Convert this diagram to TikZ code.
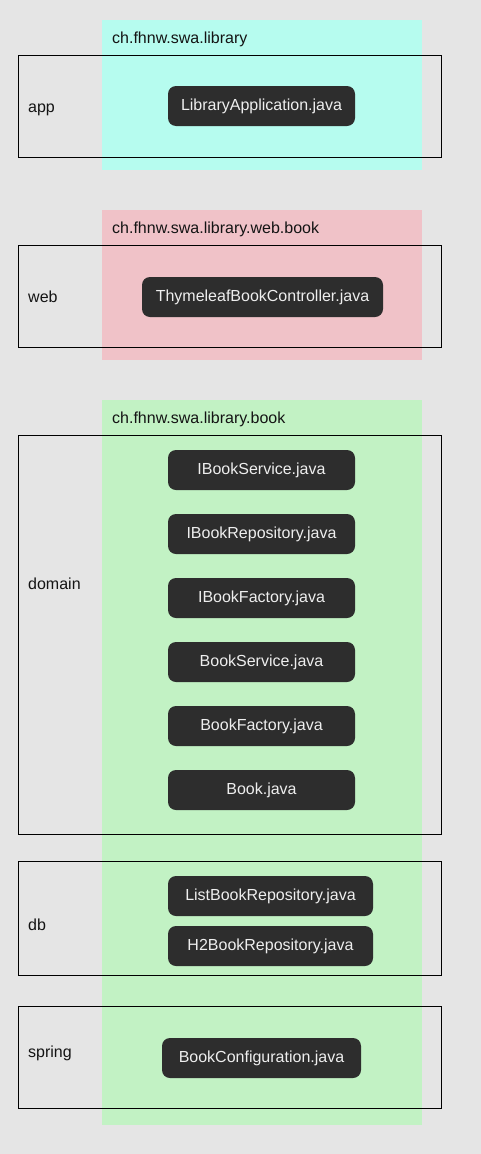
\documentclass[tikz,border=0pt]{standalone}
\usepackage{fontspec}
\setmainfont{Liberation Sans}
\definecolor{bg}{RGB}{229,229,229}
\definecolor{pkgA}{RGB}{182,252,239}
\definecolor{pkgB}{RGB}{240,194,200}
\definecolor{pkgC}{RGB}{194,242,196}
\definecolor{filebg}{RGB}{45,45,45}
\definecolor{filetx}{RGB}{238,238,238}
\definecolor{ink}{RGB}{20,20,20}
\begin{document}
\begin{tikzpicture}[x=1pt,y=-1pt,
  file/.style={fill=filebg,text=filetx,rounded corners=8pt,minimum height=40pt,inner sep=0pt,font=\fontsize{16}{18}\selectfont},
  lbl/.style={anchor=base west,inner sep=0pt,text=ink,font=\fontsize{16}{18}\selectfont},
  layer/.style={draw=black,line width=1pt}]
\useasboundingbox (0,0) rectangle (481,1154);
\fill[bg] (0,0) rectangle (481,1154);
% packages
\fill[pkgA] (102,20) rectangle (422,170);
\fill[pkgB] (102,210) rectangle (422,360);
\fill[pkgC] (102,400) rectangle (422,1125);
\node[lbl] (pa) at (112,43) {ch.fhnw.swa.library};
\node[lbl] (pb) at (112,233) {ch.fhnw.swa.library.web.book};
\node[lbl] (pc) at (112,423) {ch.fhnw.swa.library.book};
% layers
\draw[layer] (18.5,55.5) rectangle (441.5,157.5);
\draw[layer] (18.5,245.5) rectangle (441.5,347.5);
\draw[layer] (18.5,435.5) rectangle (441.5,834.5);
\draw[layer] (18.5,861.5) rectangle (441.5,975.5);
\draw[layer] (18.5,1006.5) rectangle (441.5,1108.5);
\node[lbl] (lapp) at (28,112.5) {app};
\node[lbl] (lweb) at (28,302.5) {web};
\node[lbl] (ldom) at (28,589.5) {domain};
\node[lbl] (ldb) at (28,930) {db};
\node[lbl] (lspr) at (28,1057) {spring};
% files
\node[file,minimum width=187pt] (f1) at (261.5,106) {LibraryApplication.java};
\node[file,minimum width=241pt] (f2) at (262.5,297) {ThymeleafBookController.java};
\node[file,minimum width=187pt] (f3) at (261.5,470) {IBookService.java};
\node[file,minimum width=187pt] (f4) at (261.5,534) {IBookRepository.java};
\node[file,minimum width=187pt] (f5) at (261.5,598) {IBookFactory.java};
\node[file,minimum width=187pt] (f6) at (261.5,662) {BookService.java};
\node[file,minimum width=187pt] (f7) at (261.5,726) {BookFactory.java};
\node[file,minimum width=187pt] (f8) at (261.5,790) {Book.java};
\node[file,minimum width=205pt] (f9) at (270.5,896) {ListBookRepository.java};
\node[file,minimum width=205pt] (f10) at (270.5,946) {H2BookRepository.java};
\node[file,minimum width=199pt] (f11) at (261.5,1058) {BookConfiguration.java};
\end{tikzpicture}
\end{document}
